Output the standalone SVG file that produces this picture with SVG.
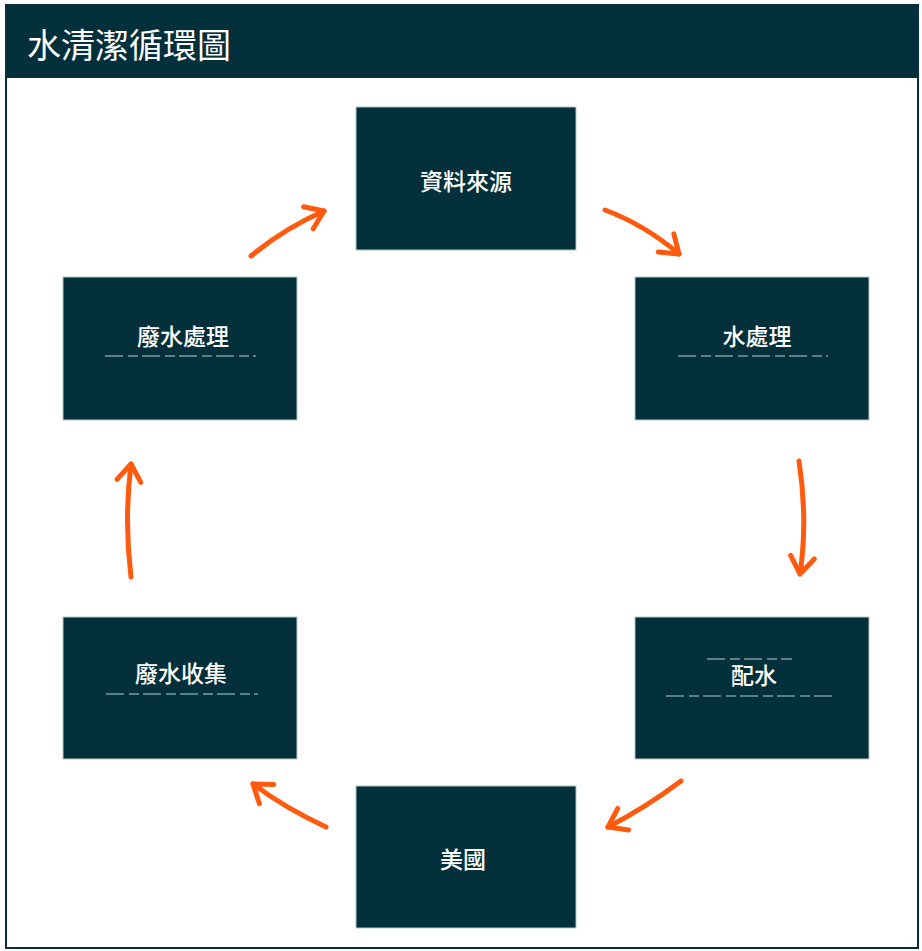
<svg xmlns="http://www.w3.org/2000/svg" width="922" height="951" viewBox="0 0 922 951">
<style>
.box{fill:#03303a;stroke:#b8c4c6;stroke-width:1}
.lbl{fill:#ffffff;font-family:"Noto Sans CJK TC","Noto Sans CJK SC",sans-serif;font-size:23px;font-weight:500;text-anchor:middle}
.title{fill:#ffffff;font-family:"Noto Sans CJK TC","Noto Sans CJK SC",sans-serif;font-size:34px}
.arr{fill:none;stroke:#ff5a0d;stroke-width:5;stroke-linecap:round;marker-end:url(#head)}
.ghost{stroke:#ffffff;stroke-width:1;stroke-dasharray:18 5 10 4;opacity:0.75}
</style>
<defs>
<marker id="head" markerUnits="userSpaceOnUse" markerWidth="40" markerHeight="40" refX="0" refY="0" viewBox="-25 -20 40 40" orient="auto" overflow="visible">
<path d="M-17,-12 L0,0 L-17,12" fill="none" stroke="#ff5a0d" stroke-width="5" stroke-linecap="round" stroke-linejoin="round"/>
</marker>
</defs>
<rect x="0" y="0" width="922" height="951" fill="#ffffff"/>
<rect x="6" y="5" width="912" height="943" fill="#ffffff" stroke="#03303a" stroke-width="2"/>
<rect x="5" y="5" width="914" height="73" fill="#03303a"/>
<text class="title" x="27" y="58">水清潔循環圖</text>

<g id="source"><rect class="box" x="356" y="107" width="220" height="143"/><text class="lbl" x="466" y="190">資料來源</text></g>
<g id="treatment"><rect class="box" x="635" y="277" width="234" height="143"/><text class="lbl" x="757" y="345">水處理</text><line class="ghost" x1="678" y1="356" x2="828" y2="356"/></g>
<g id="distribution"><rect class="box" x="635" y="617" width="234" height="142"/><text class="lbl" x="754" y="684">配水</text><line class="ghost" x1="707" y1="659" x2="792" y2="659"/><line class="ghost" x1="666" y1="696" x2="836" y2="696"/></g>
<g id="usa"><rect class="box" x="356" y="786" width="220" height="142"/><text class="lbl" x="463" y="868">美國</text></g>
<g id="collection"><rect class="box" x="63" y="617" width="234" height="142"/><text class="lbl" x="181" y="682">廢水收集</text><line class="ghost" x1="106" y1="694" x2="258" y2="694"/></g>
<g id="wastewater"><rect class="box" x="63" y="277" width="234" height="143"/><text class="lbl" x="183" y="345">廢水處理</text><line class="ghost" x1="105" y1="356" x2="256" y2="356"/></g>

<g id="connectors">
<path class="arr" d="M251,256 Q285,228 324,211"/>
<path class="arr" d="M605,210 Q645,225 679,254"/>
<path class="arr" d="M799,461 Q808,520 800,574"/>
<path class="arr" d="M681,781 Q645,808 608,827"/>
<path class="arr" d="M326,827 Q285,808 253,784"/>
<path class="arr" d="M131,577 Q124,520 131,464"/>
</g>
</svg>
